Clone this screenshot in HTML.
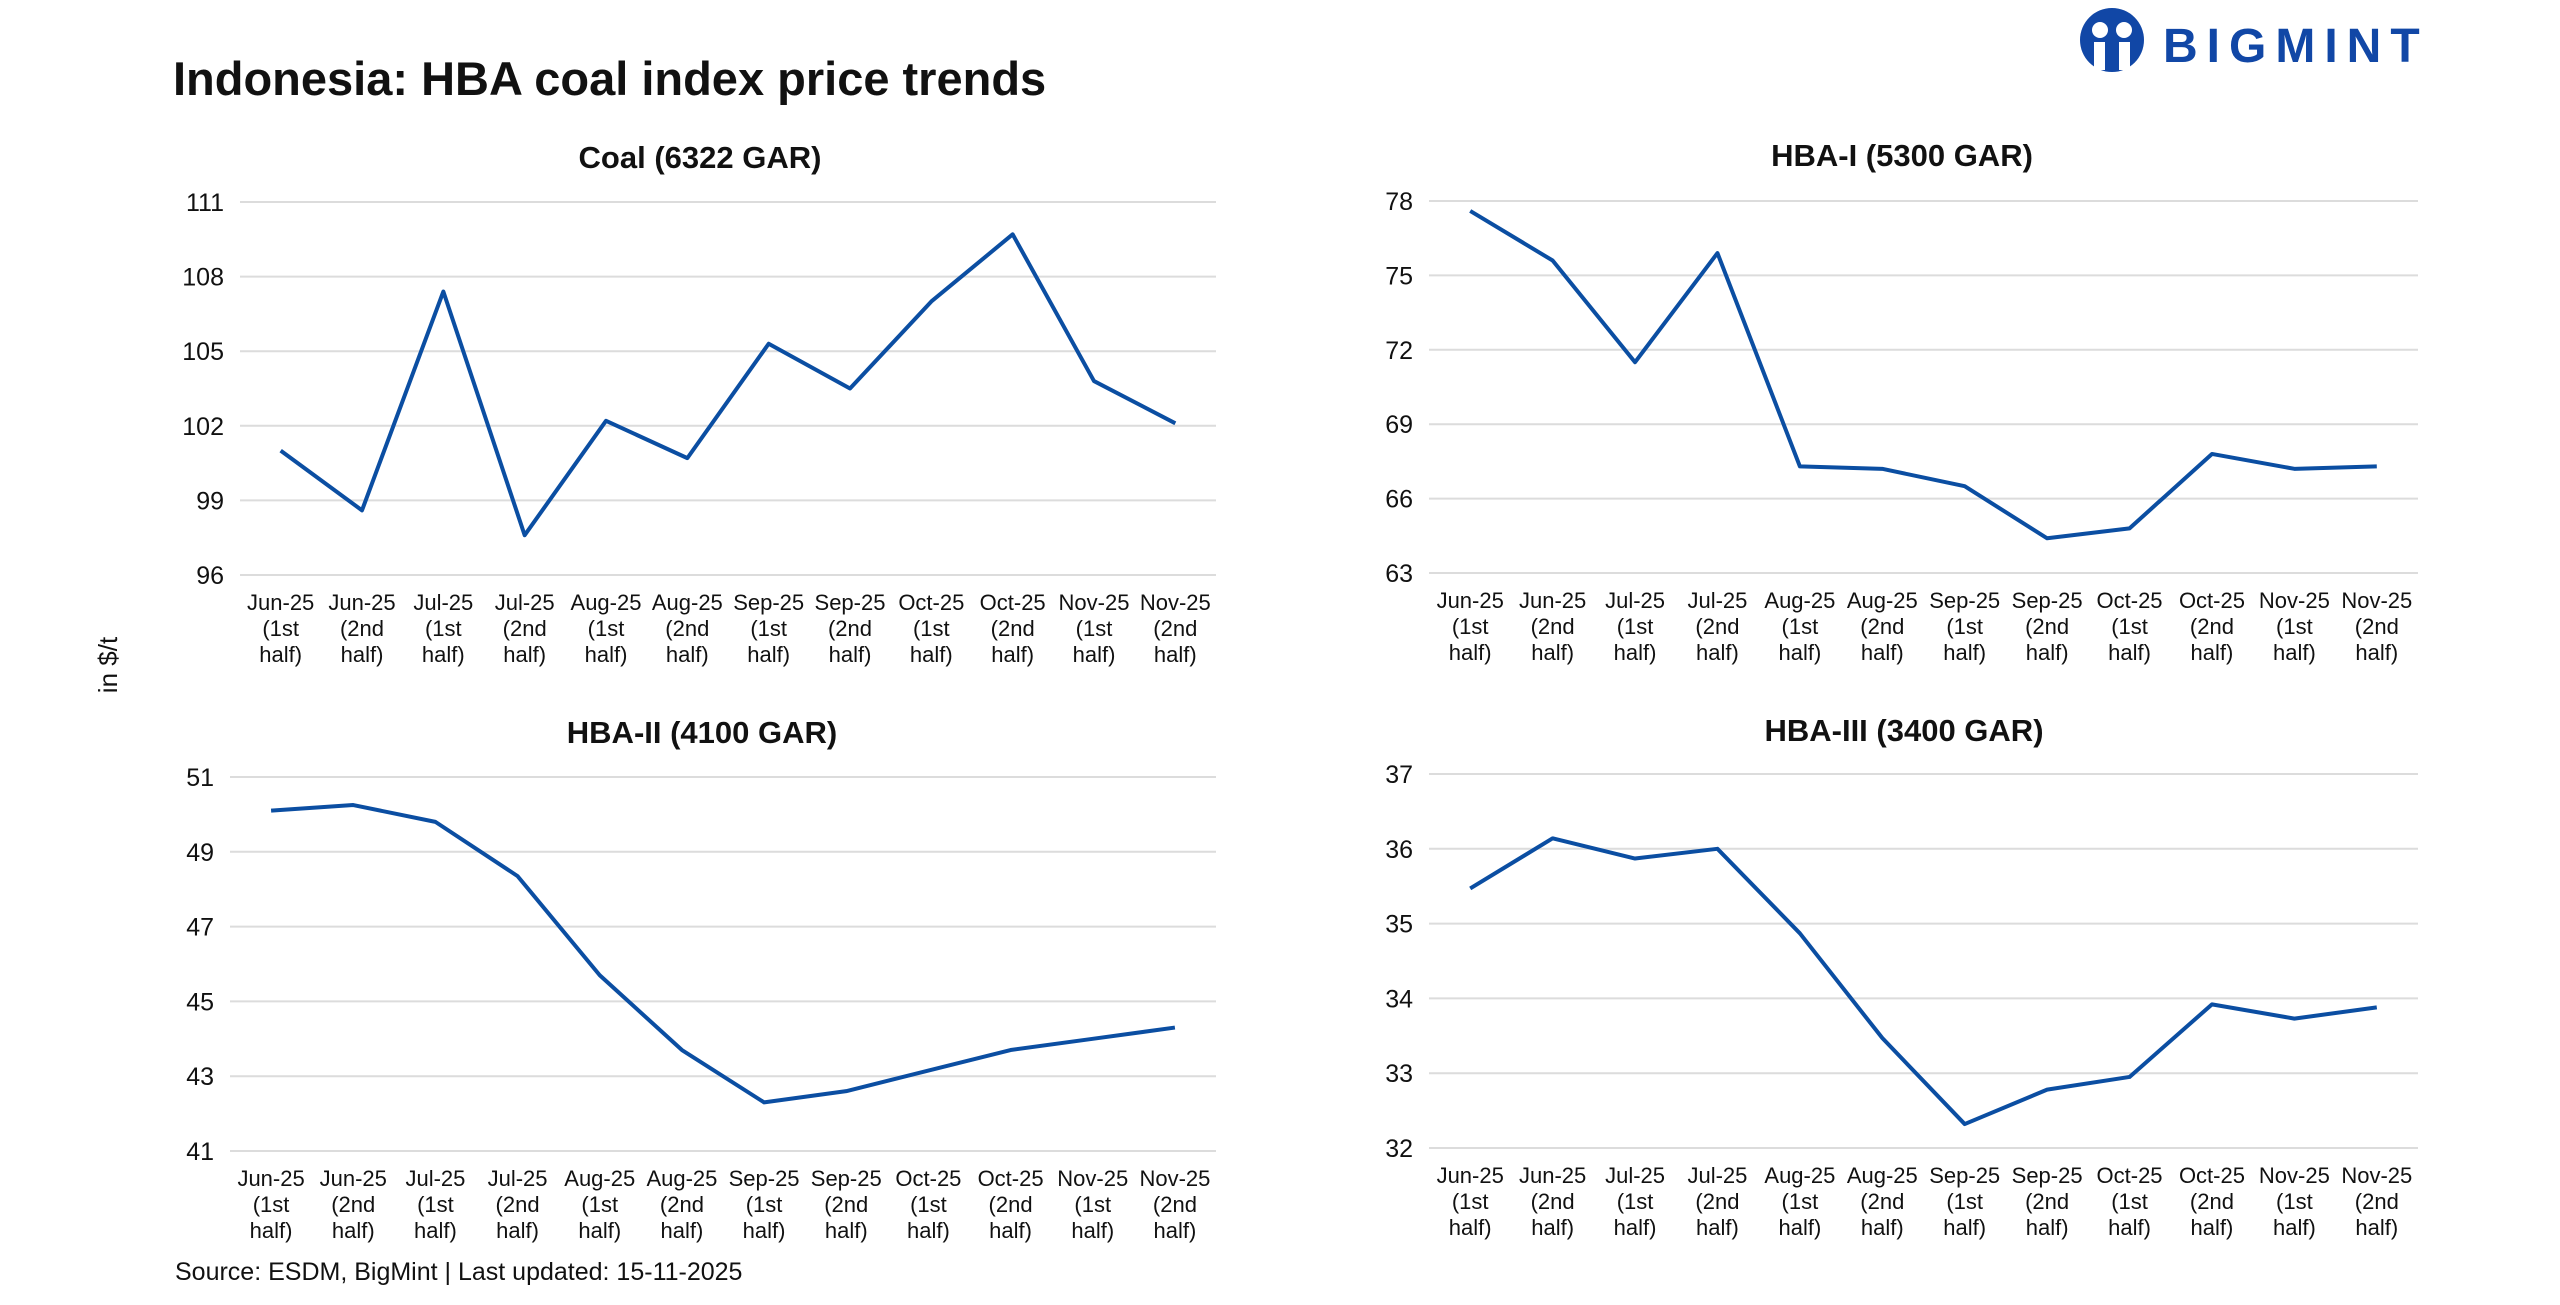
<!DOCTYPE html>
<html><head><meta charset="utf-8"><style>
body{margin:0;background:#fff;width:2560px;height:1300px;overflow:hidden;font-family:"Liberation Sans",sans-serif}
svg text{font-family:"Liberation Sans",sans-serif}
</style></head><body>
<svg id="s" width="2560" height="1300" viewBox="0 0 2560 1300">
<text x="173" y="95" font-size="47" font-weight="bold" fill="#111">Indonesia: HBA coal index price trends</text>
<g>
<circle cx="2112" cy="40" r="32" fill="#1147a6"/>
<circle cx="2100" cy="30" r="8" fill="#fff"/><circle cx="2124" cy="30" r="8" fill="#fff"/>
<rect x="2094" y="42" width="11" height="28" fill="#fff"/><rect x="2119" y="42" width="11" height="28" fill="#fff"/>
<text x="2163" y="62" font-size="48" font-weight="bold" fill="#1147a6" letter-spacing="9">BIGMINT</text>
</g>
<text transform="translate(117,665) rotate(-90)" text-anchor="middle" font-size="26" fill="#111">in $/t</text>
<text x="175" y="1280" font-size="25" fill="#111">Source: ESDM, BigMint | Last updated: 15-11-2025</text>
</svg>
<script>
const categories=["Jun-25|(1st|half)","Jun-25|(2nd|half)","Jul-25|(1st|half)","Jul-25|(2nd|half)","Aug-25|(1st|half)","Aug-25|(2nd|half)","Sep-25|(1st|half)","Sep-25|(2nd|half)","Oct-25|(1st|half)","Oct-25|(2nd|half)","Nov-25|(1st|half)","Nov-25|(2nd|half)"];
const coalValues=[101,98.6,107.4,97.6,102.2,100.7,105.3,103.5,107,109.7,103.8,102.1];
const hba1Values=[77.6,75.6,71.5,75.9,67.3,67.2,66.5,64.4,64.8,67.8,67.2,67.3];
const hba2Values=[50.1,50.25,49.8,48.35,45.7,43.7,42.3,42.6,43.15,43.7,44.0,44.3];
const hba3Values=[35.47,36.14,35.87,36.0,34.87,33.47,32.32,32.78,32.95,33.92,33.73,33.88];
const coalTicks=[96,99,102,105,108,111];
const hba1Ticks=[63,66,69,72,75,78];
const hba2Ticks=[41,43,45,47,49,51];
const hba3Ticks=[32,33,34,35,36,37];
const titles=["Coal (6322 GAR)","HBA-I (5300 GAR)","HBA-II (4100 GAR)","HBA-III (3400 GAR)"];
const NS="http://www.w3.org/2000/svg";
const svg=document.getElementById('s');
function mk(t,a,p){const e=document.createElementNS(NS,t);for(const k in a)e.setAttribute(k,a[k]);p.appendChild(e);return e;}
function chart(name,title,vals,ticks,x0,x1,yTop,yBot,titleX,titleY){
  const g=mk('g',{},svg);
  
  
  const lo=ticks[0],hi=ticks[ticks.length-1];
  const ys=v=>yBot-(v-lo)/(hi-lo)*(yBot-yTop);
  const bw=(x1-x0)/categories.length;
  const xs=i=>x0+bw*(i+0.5);
  const t=mk('text',{x:titleX,y:titleY,'text-anchor':'middle','font-size':31,'font-weight':'bold',fill:'#111'},g);
  t.textContent=title;
  
  
  ticks.forEach(v=>{
    const l=mk('line',{x1:x0,x2:x1,y1:ys(v),y2:ys(v),stroke:'#dcdcdc','stroke-width':2},g);
    
    
    const tx=mk('text',{x:x0-16,y:ys(v)+9,'text-anchor':'end','font-size':25,fill:'#111'},g);
    tx.textContent=v;
    
    
  });
  categories.forEach((c,i)=>{
    const tx=mk('text',{'text-anchor':'middle','font-size':22,fill:'#111'},g);
    
    
    c.split('|').forEach((s,j)=>{const sp=mk('tspan',{x:xs(i),y:yBot+35+j*26},tx);sp.textContent=s;});
  });
  const p=mk('polyline',{points:vals.map((v,i)=>xs(i)+','+ys(v)).join(' '),fill:'none',stroke:'#0b4ea2','stroke-width':4,'stroke-linejoin':'round'},g);
  
  
}
chart('coal',titles[0],coalValues,coalTicks,240,1216,202,575,700,168);
chart('hba-1',titles[1],hba1Values,hba1Ticks,1429,2418,201,573,1902,166);
chart('hba-2',titles[2],hba2Values,hba2Ticks,230,1216,777,1151,702,743);
chart('hba-3',titles[3],hba3Values,hba3Ticks,1429,2418,774,1148,1904,741);
</script>
</body></html>
